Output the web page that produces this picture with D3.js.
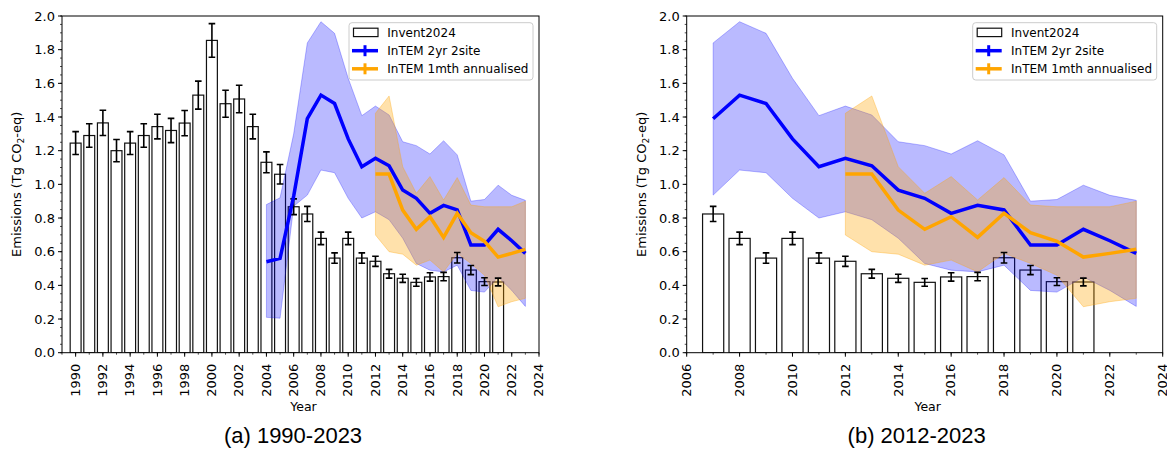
<!DOCTYPE html>
<html><head><meta charset="utf-8">
<script src="https://cdn.jsdelivr.net/npm/d3@7"></script>
<style>
body{margin:0;background:#fff}
svg{display:block}
text{font-family:"DejaVu Sans",sans-serif;fill:#000}
</style>
</head><body>
<svg id="chart" width="1167" height="450"></svg>
<script>
// ---------------- data ----------------
const inventYears = [1990,1991,1992,1993,1994,1995,1996,1997,1998,1999,2000,2001,2002,2003,2004,2005,
                     2006,2007,2008,2009,2010,2011,2012,2013,2014,2015,2016,2017,2018,2019,2020,2021];
const inventValues = [1.245,1.29,1.365,1.2,1.245,1.29,1.343,1.32,1.364,1.53,1.855,1.479,1.507,1.343,1.131,1.06,
                      0.867,0.824,0.679,0.562,0.679,0.562,0.543,0.469,0.442,0.418,0.45,0.452,0.564,0.491,0.422,0.42];
const inventErrors = [0.068,0.07,0.075,0.066,0.068,0.07,0.073,0.072,0.075,0.083,0.1,0.08,0.082,0.073,0.062,0.058,
                      0.047,0.045,0.037,0.031,0.037,0.031,0.03,0.026,0.024,0.023,0.025,0.025,0.031,0.027,0.023,0.023];

const intemYears  = [2004,2005,2006,2007,2008,2009,2010,2011,2012,2013,2014,2015,2016,2017,2018,2019,2020,2021,2022,2023];
const intemValues = [0.54,0.56,0.93,1.39,1.53,1.48,1.27,1.105,1.155,1.11,0.966,0.917,0.828,0.875,0.848,0.64,0.64,0.733,0.665,0.59];
const intemUpper  = [0.88,0.92,1.3,1.84,1.966,1.897,1.63,1.408,1.465,1.412,1.253,1.23,1.18,1.259,1.175,0.9,0.91,0.995,0.935,0.905];
const intemLower  = [0.21,0.205,0.87,0.936,1.085,1.069,0.917,0.80,0.837,0.79,0.68,0.53,0.49,0.48,0.52,0.37,0.36,0.45,0.37,0.275];

const monthlyYears  = [2012,2013,2014,2015,2016,2017,2018,2019,2020,2021,2022,2023];
const monthlyValues = [1.061,1.061,0.847,0.733,0.808,0.685,0.828,0.713,0.662,0.568,0.59,0.614];
const monthlyUpper  = [1.422,1.525,1.105,0.947,1.046,0.907,1.04,0.877,0.867,0.867,0.867,0.9];
const monthlyLower  = [0.699,0.60,0.585,0.52,0.55,0.48,0.59,0.53,0.46,0.273,0.303,0.323];

const yTicks = [0,0.2,0.4,0.6,0.8,1.0,1.2,1.4,1.6,1.8,2.0];
const legendLabels = ["Invent2024","InTEM 2yr 2site","InTEM 1mth annualised"];
const panelCaptions = ["(a) 1990-2023","(b) 2012-2023"];
const xTickSets = [[1990,1992,1994,1996,1998,2000,2002,2004,2006,2008,2010,2012,2014,2016,2018,2020,2022,2024],
                   [2006,2008,2010,2012,2014,2016,2018,2020,2022,2024]];

// ---------------- layout ----------------
const BLUE = "#0000ff", ORANGE = "#ffa500";
const svg = d3.select("#chart");
const panels = [
  {left:62, right:539, top:16, bottom:352.7, xDomain:[1989,2024], minYear:1990, ticks:xTickSets[0], caption:panelCaptions[0], capX:293},
  {left:686.7, right:1162.7, top:16, bottom:352.7, xDomain:[2006,2024], minYear:2007, ticks:xTickSets[1], caption:panelCaptions[1], capX:916.7}
];

const inventData = inventYears.map((yr,i)=>({year:yr, v:inventValues[i], e:inventErrors[i]}));
const intemData = intemYears.map((yr,i)=>({year:yr, v:intemValues[i], hi:intemUpper[i], lo:intemLower[i]}));
const monthlyData = monthlyYears.map((yr,i)=>({year:yr, v:monthlyValues[i], hi:monthlyUpper[i], lo:monthlyLower[i]}));

panels.forEach((p, pi) => {
  const x = d3.scaleLinear().domain(p.xDomain).range([p.left, p.right]);
  const y = d3.scaleLinear().domain([0, 2]).range([p.bottom, p.top]);
  const g = svg.append("g");
  const clipId = "clip" + pi;
  svg.append("clipPath").attr("id", clipId).append("rect")
    .attr("x", p.left).attr("y", p.top).attr("width", p.right - p.left).attr("height", p.bottom - p.top);
  const plot = g.append("g").attr("clip-path", `url(#${clipId})`);

  const bl = intemData.filter(d => d.year >= p.minYear);
  const mo = monthlyData.filter(d => d.year >= p.minYear);
  const inv = inventData.filter(d => d.year >= p.minYear);

  // bars
  plot.selectAll(".bar").data(inv).enter().append("rect")
    .attr("x", d => x(d.year - 0.4)).attr("width", d => x(d.year + 0.4) - x(d.year - 0.4))
    .attr("y", d => y(d.v)).attr("height", d => y(0) - y(d.v))
    .attr("fill", "#fff").attr("stroke", "#111").attr("stroke-width", 1.2);

  // uncertainty bands (drawn over bars)
  const area = d3.area().x(d => x(d.year)).y0(d => y(d.lo)).y1(d => y(d.hi));
  plot.append("path").datum(bl).attr("d", area)
    .attr("fill", BLUE).attr("fill-opacity", 0.27)
    .attr("stroke", BLUE).attr("stroke-opacity", 0.27).attr("stroke-width", 1);
  plot.append("path").datum(mo).attr("d", area)
    .attr("fill", ORANGE).attr("fill-opacity", 0.33)
    .attr("stroke", ORANGE).attr("stroke-opacity", 0.33).attr("stroke-width", 1);

  // error bars
  const eb = plot.selectAll(".eb").data(inv).enter().append("g");
  eb.append("line").attr("x1", d => x(d.year)).attr("x2", d => x(d.year))
    .attr("y1", d => y(d.v - d.e)).attr("y2", d => y(d.v + d.e))
    .attr("stroke", "#000").attr("stroke-width", 1.6);
  [-1, 1].forEach(s => {
    eb.append("line").attr("x1", d => x(d.year) - 3.3).attr("x2", d => x(d.year) + 3.3)
      .attr("y1", d => y(d.v + s * d.e)).attr("y2", d => y(d.v + s * d.e))
      .attr("stroke", "#000").attr("stroke-width", 1.6);
  });

  // lines
  const line = d3.line().x(d => x(d.year)).y(d => y(d.v));
  plot.append("path").datum(bl).attr("d", line).attr("fill", "none")
    .attr("stroke", BLUE).attr("stroke-width", 3.5).attr("stroke-linejoin", "miter");
  plot.append("path").datum(mo).attr("d", line).attr("fill", "none")
    .attr("stroke", ORANGE).attr("stroke-width", 3.5).attr("stroke-linejoin", "miter");

  // frame
  g.append("rect").attr("x", p.left).attr("y", p.top)
    .attr("width", p.right - p.left).attr("height", p.bottom - p.top)
    .attr("fill", "none").attr("stroke", "#000").attr("stroke-width", 1);

  // y axis
  const yAxis = g.append("g");
  const yMinor = d3.range(0, 2.0001, 0.05);
  yAxis.selectAll(".ym").data(yMinor).enter().append("line")
    .attr("x1", p.left - 2).attr("x2", p.left).attr("y1", d => y(d)).attr("y2", d => y(d))
    .attr("stroke", "#000").attr("stroke-width", 0.7);
  yAxis.selectAll(".yt").data(yTicks).enter().append("line")
    .attr("x1", p.left - 4).attr("x2", p.left).attr("y1", d => y(d)).attr("y2", d => y(d))
    .attr("stroke", "#000").attr("stroke-width", 1);
  yAxis.selectAll(".yl").data(yTicks).enter().append("text")
    .attr("x", p.left - 7).attr("y", d => y(d)).attr("dy", "0.36em")
    .attr("text-anchor", "end").attr("font-size", 13).text(d => d3.format(".1f")(d));

  // x axis
  const xAxis = g.append("g");
  const xMinor = d3.range(p.xDomain[0], p.xDomain[1] + 0.001, 1);
  xAxis.selectAll(".xm").data(xMinor).enter().append("line")
    .attr("x1", d => x(d)).attr("x2", d => x(d)).attr("y1", p.bottom).attr("y2", p.bottom + 2)
    .attr("stroke", "#000").attr("stroke-width", 0.7);
  xAxis.selectAll(".xt").data(p.ticks).enter().append("line")
    .attr("x1", d => x(d)).attr("x2", d => x(d)).attr("y1", p.bottom).attr("y2", p.bottom + 4)
    .attr("stroke", "#000").attr("stroke-width", 1);
  xAxis.selectAll(".xl").data(p.ticks).enter().append("text")
    .attr("transform", d => `translate(${x(d)},${p.bottom + 11}) rotate(-90)`)
    .attr("dy", "0.33em").attr("text-anchor", "end").attr("font-size", 13).text(d => d);

  // axis labels
  g.append("text").attr("x", (p.left + p.right) / 2 + 3).attr("y", 411)
    .attr("text-anchor", "middle").attr("font-size", 12.5).text("Year");
  const yl = g.append("text")
    .attr("transform", `translate(${p.left - 41},${(p.top + p.bottom) / 2}) rotate(-90)`)
    .attr("text-anchor", "middle").attr("font-size", 13);
  yl.append("tspan").text("Emissions (Tg CO");
  yl.append("tspan").attr("font-size", 9).attr("dy", 3).text("2");
  yl.append("tspan").attr("dy", -3).text("-eq)");

  // legend
  const lg = g.append("g");
  const lx = p.right - 190, ly = 22.7;
  lg.append("rect").attr("x", lx).attr("y", ly).attr("width", 184).attr("height", 57.3)
    .attr("rx", 3).attr("fill", "#fff").attr("fill-opacity", 0.8)
    .attr("stroke", "#ccc").attr("stroke-width", 1);
  const rowY = [32.4, 50.7, 68.8];
  const hx0 = lx + 3, hx1 = lx + 29;
  lg.append("rect").attr("x", hx0 + 1.5).attr("y", rowY[0] - 4.2).attr("width", hx1 - hx0 - 1.5).attr("height", 8.4)
    .attr("fill", "#fff").attr("stroke", "#111").attr("stroke-width", 1.2);
  [[BLUE, rowY[1]], [ORANGE, rowY[2]]].forEach(([c, yy]) => {
    lg.append("line").attr("x1", hx0).attr("x2", hx1).attr("y1", yy).attr("y2", yy)
      .attr("stroke", c).attr("stroke-width", 3.5);
    lg.append("line").attr("x1", (hx0 + hx1) / 2).attr("x2", (hx0 + hx1) / 2).attr("y1", yy - 5.5).attr("y2", yy + 5.5)
      .attr("stroke", c).attr("stroke-width", 3);
  });
  legendLabels.forEach((t, i) => {
    lg.append("text").attr("x", lx + 38.3).attr("y", rowY[i]).attr("dy", "0.36em")
      .attr("font-size", 12).text(t);
  });

  // caption
  svg.append("text").attr("x", p.capX).attr("y", 443).attr("text-anchor", "middle")
    .style("font-family", "'Liberation Sans', Arial, sans-serif").attr("font-size", 22).text(p.caption);
});
</script>
</body></html>
